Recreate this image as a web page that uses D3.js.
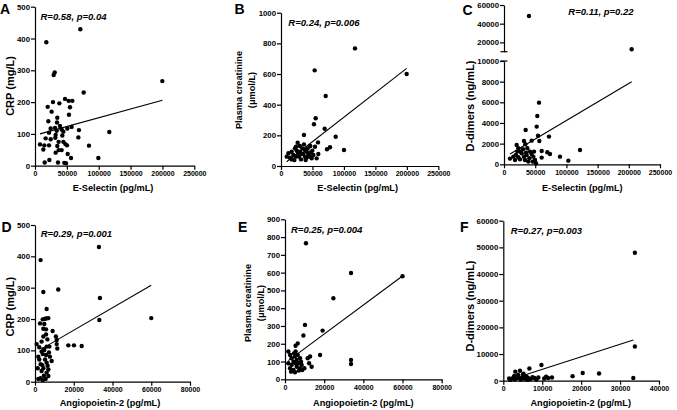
<!DOCTYPE html>
<html><head><meta charset="utf-8">
<script src="https://cdn.jsdelivr.net/npm/d3@7"></script>
<style>
body{margin:0;background:#fff;}
svg{display:block;font-family:"Liberation Sans",Arial,sans-serif;}
</style></head><body>
<script>
// ---------- data ----------
const ptsA = [[71100,429],[17800,388],[30900,293],[29300,285],[199800,266],[76400,230],[19900,185],[28200,200],[47100,210],[52800,204],[58600,204],[38200,196],[54900,184],[53300,160],[20900,140],[35000,151],[34500,136],[26100,170],[57500,122],[69000,112],[50700,117],[39200,125],[41800,114],[31400,119],[24600,117],[34000,110],[44500,107],[22000,104],[7800,67],[14600,64],[13100,51],[22000,64],[16700,86],[24600,83],[31900,88],[32400,97],[42900,95],[37100,75],[44500,75],[47600,68],[50200,64],[35000,62],[41800,49],[37100,49],[32400,41],[51300,37],[56500,24],[15200,10],[22500,18],[36100,10],[46000,9],[48600,8],[68000,89],[84700,63],[99400,24],[116600,106]];
const ptsB = [[117600,767],[53500,624],[71000,457],[199700,600],[55100,311],[52400,272],[69400,243],[36500,202],[86900,191],[58800,154],[77900,122],[73100,109],[100100,104],[59300,78],[9000,61],[14300,54],[17000,43],[19600,72],[17000,93],[22200,115],[26500,152],[23800,126],[30200,93],[32800,78],[36500,141],[38100,61],[40800,93],[43400,78],[46100,61],[48700,50],[49800,100],[28600,61],[33900,115],[42400,115],[39200,39],[51400,72],[56700,50],[54000,126],[46600,130],[31800,43],[23300,61],[11700,83],[21200,39],[35000,80],[44000,70],[27000,85],[38000,105],[30000,130],[25000,100],[41000,55],[47000,88]];
const ptsC = [[40000,48200],[204600,12700],[56100,5970],[53400,4680],[52400,3650],[34700,3320],[54500,2770],[72100,2680],[56600,2260],[44300,2290],[32000,2260],[34200,1940],[20300,1870],[23000,1550],[121800,1390],[26700,1230],[60400,1290],[69400,1160],[73700,1000],[89700,740],[103100,355],[60400,650],[9600,550],[15000,740],[19200,900],[23000,680],[28300,1060],[32000,740],[36300,900],[40600,580],[44300,1000],[47000,740],[49700,420],[39000,260],[33600,420],[25600,480],[45900,260],[51300,100],[41700,1230],[37400,1550],[30400,1450],[21400,1230],[17600,420],[35300,1130],[48100,1230]];
const ptsD = [[33000,430],[2900,388],[33500,267],[4300,286],[12000,294],[33200,197],[60000,203],[6000,232],[2600,186],[5200,201],[4000,199],[6000,202],[4800,184],[6900,203],[5700,167],[4300,169],[9100,162],[5700,151],[10800,144],[3400,128],[4300,144],[6400,135],[11200,133],[11200,120],[11500,106],[17200,116],[20100,116],[24100,114],[860,120],[2200,110],[4300,104],[6000,112],[4000,88],[1700,80],[5200,71],[2900,56],[6000,61],[1400,43],[4300,43],[3400,34],[6000,29],[6900,39],[7700,80],[8600,66],[7200,93],[5700,85],[4600,19],[2900,11],[5500,9],[1700,9],[4000,5],[6900,18],[2200,71],[4800,101],[3400,96],[3800,53],[6500,51],[7400,112]];
const ptsE = [[10700,765],[33700,598],[60000,580],[24700,456],[19200,274],[10200,306],[9400,246],[5400,189],[6500,202],[1700,156],[5400,156],[17900,137],[12800,128],[11600,118],[33700,109],[33700,86],[12300,90],[13600,71],[9900,62],[2600,137],[3400,118],[4300,99],[5100,128],[6000,109],[6800,90],[7700,118],[3400,81],[2600,62],[4300,52],[6000,71],[7700,62],[8500,81],[3100,43],[5100,40],[7100,49],[8800,52],[1700,90],[6500,137],[4600,146],[5400,90],[8200,99]];
const ptsF = [[33800,48000],[33800,12800],[33400,1000],[9800,5900],[6700,4600],[4300,3750],[3100,3400],[20400,2900],[24600,2700],[17800,1700],[11000,1500],[11500,1000],[12500,1200],[10500,800],[5000,2200],[5500,1800],[6000,1500],[4000,1200],[3500,900],[2500,1000],[2000,600],[1500,800],[3000,500],[4500,400],[5500,700],[6500,900],[7000,600],[8000,1000],[8500,400],[3800,2200],[2800,1800],[4800,1000],[6200,300],[7500,1300],[9000,1200],[1800,300],[5200,2600]];

const fitA = [[7800,100],[200000,206]];
const fitB = [[9000,28],[199700,637]];
const fitC = [[9600,1000],[204600,8000]];
const fitD = [[4300,108],[60000,308]];
const fitE = [[1700,105],[60000,581]];
const fitF = [[4700,1750],[33400,15250]];

const ticksSel = [0,50000,100000,150000,200000,250000];
const ticksAng = [0,20000,40000,60000,80000];
const ticksAngF = [0,10000,20000,30000,40000];
const ticksCRP = [0,100,200,300,400,500];
const ticksCreatB = [0,200,400,600,800,1000];
const ticksCreatE = [0,100,200,300,400,500,600,700,800,900];
const ticksDdimLow = [0,2000,4000,6000,8000,10000];
const ticksDdimHigh = [20000,40000,60000];
const ticksDdimF = [0,10000,20000,30000,40000,50000,60000];

const letters = ["A","B","C","D","E","F"];
const stats = ["R=0.58, p=0.04","R=0.24, p=0.006","R=0.11, p=0.22","R=0.29, p=0.001","R=0.25, p=0.004","R=0.27, p=0.003"];
const xTitles = ["E-Selectin (pg/mL)","E-Selectin (pg/mL)","E-Selectin (pg/mL)","Angiopoietin-2 (pg/mL)","Angiopoietin-2 (pg/mL)","Angiopoietin-2 (pg/mL)"];
const yTitles = [["CRP (mg/L)"],["Plasma creatinine","(\u03bcmol/L)"],["D-dimers (ng/mL)"],["CRP (mg/L)"],["Plasma creatinine","(\u03bcmol/L)"],["D-dimers (ng/mL)"]];

// ---------- drawing ----------
const svg = d3.select("body").append("svg").attr("width",677).attr("height",410);
const fmt = d3.format("d");
const AX = 1.2;

function styleAxis(g, fs){
  g.selectAll("path").attr("stroke","#000").attr("stroke-width",AX);
  g.selectAll("line").attr("stroke","#000").attr("stroke-width",AX);
  g.selectAll("text").attr("font-size",fs).attr("font-weight","bold").attr("fill","#000")
   .attr("font-family",'"Liberation Sans",Arial,sans-serif');
}

const panels = [
  {pts:ptsA, fit:fitA, xd:[0,250000], xr:[35,194.3], xt:ticksSel, yd:[0,500], yr:[165.7,6.7], yt:ticksCRP,
   let:[0,13.5], st:[40.5,20], xtl:[113,191], ytl:[[10,86]]},
  {pts:ptsB, fit:fitB, xd:[0,250000], xr:[281,438.3], xt:ticksSel, yd:[0,1000], yr:[166,12.7], yt:ticksCreatB,
   let:[234.5,13.5], st:[288.3,26], xtl:[357.7,191], ytl:[[238.5,90],[251,90]]},
  {pts:ptsC, fit:fitC, xd:[0,250000], xr:[504,660], xt:ticksSel, broken:true,
   let:[462.5,15], st:[568.3,15], xtl:[582.3,191], ytl:[[470,106]]},
  {pts:ptsD, fit:fitD, xd:[0,80000], xr:[35,190], xt:ticksAng, yd:[0,500], yr:[381.7,225], yt:ticksCRP,
   let:[1.5,231.7], st:[40.7,237.3], xtl:[110,405.5], ytl:[[10,306.7]]},
  {pts:ptsE, fit:fitE, xd:[0,80000], xr:[285,441.7], xt:ticksAng, yd:[0,900], yr:[379.3,219.3], yt:ticksCreatE,
   let:[238,231.7], st:[291,233.3], xtl:[363.3,405.5], ytl:[[247.5,303],[260,303]]},
  {pts:ptsF, fit:fitF, xd:[0,40000], xr:[503.3,659], xt:ticksAngF, yd:[0,60000], yr:[380.7,220.7], yt:ticksDdimF,
   let:[460,231.7], st:[510.7,234], xtl:[580.7,405.5], ytl:[[470,306]]}
];

panels.forEach((p,i)=>{
  const g = svg.append("g");
  const x = d3.scaleLinear().domain(p.xd).range(p.xr);
  let yf, yBottom;
  if(p.broken){
    const yLow = d3.scaleLinear().domain([0,10000]).range([164.3,61]);
    const yHigh = d3.scaleLinear().domain([10000,60000]).range([51.7,5]);
    yf = v => v>10000 ? yHigh(v) : yLow(v);
    yBottom = 164.3;
    const gl = g.append("g").attr("transform",`translate(${p.xr[0]},0)`)
      .call(d3.axisLeft(yLow).tickValues(ticksDdimLow).tickFormat(fmt).tickSize(4).tickSizeOuter(0).tickPadding(1));
    styleAxis(gl,7.8);
    const gh = g.append("g").attr("transform",`translate(${p.xr[0]},0)`)
      .call(d3.axisLeft(yHigh).tickValues(ticksDdimHigh).tickFormat(fmt).tickSize(4).tickSizeOuter(0).tickPadding(1));
    styleAxis(gh,7.8);
    [yHigh(10000), yLow(10000)].forEach(yy=>{
      g.append("line").attr("x1",p.xr[0]-3.5).attr("x2",p.xr[0]+3.5).attr("y1",yy).attr("y2",yy)
       .attr("stroke","#000").attr("stroke-width",AX);
    });
  } else {
    const y = d3.scaleLinear().domain(p.yd).range(p.yr);
    yf = y; yBottom = p.yr[0];
    const gy = g.append("g").attr("transform",`translate(${p.xr[0]},0)`)
      .call(d3.axisLeft(y).tickValues(p.yt).tickFormat(fmt).tickSize(4).tickSizeOuter(0).tickPadding(1));
    styleAxis(gy,7.8);
  }
  const gx = g.append("g").attr("transform",`translate(0,${yBottom})`)
    .call(d3.axisBottom(x).tickValues(p.xt).tickFormat(fmt).tickSize(4).tickSizeOuter(0).tickPadding(1.5));
  styleAxis(gx,7);

  g.append("g").selectAll("circle").data(p.pts).join("circle")
    .attr("cx",d=>x(d[0])).attr("cy",d=>yf(d[1])).attr("r",2.2).attr("fill","#000");
  g.append("line").attr("x1",x(p.fit[0][0])).attr("y1",yf(p.fit[0][1]))
    .attr("x2",x(p.fit[1][0])).attr("y2",yf(p.fit[1][1]))
    .attr("stroke","#000").attr("stroke-width",1.1);

  g.append("text").attr("x",p.let[0]).attr("y",p.let[1]).text(letters[i])
    .attr("font-size",14).attr("font-weight","bold");
  g.append("text").attr("x",p.st[0]).attr("y",p.st[1]).text(stats[i])
    .attr("font-size",9.5).attr("font-weight","bold").attr("font-style","italic");
  g.append("text").attr("x",p.xtl[0]).attr("y",p.xtl[1]).attr("text-anchor","middle")
    .text(xTitles[i]).attr("font-size",9.2).attr("font-weight","bold");
  const fsY = yTitles[i].length > 1 ? 9.2 : 11;
  yTitles[i].forEach((t,k)=>{
    const pos = p.ytl[k];
    g.append("text").attr("transform",`translate(${pos[0]+3.5},${pos[1]}) rotate(-90)`)
      .attr("text-anchor","middle").text(t).attr("font-size",fsY).attr("font-weight","bold");
  });
});
</script>
</body></html>
